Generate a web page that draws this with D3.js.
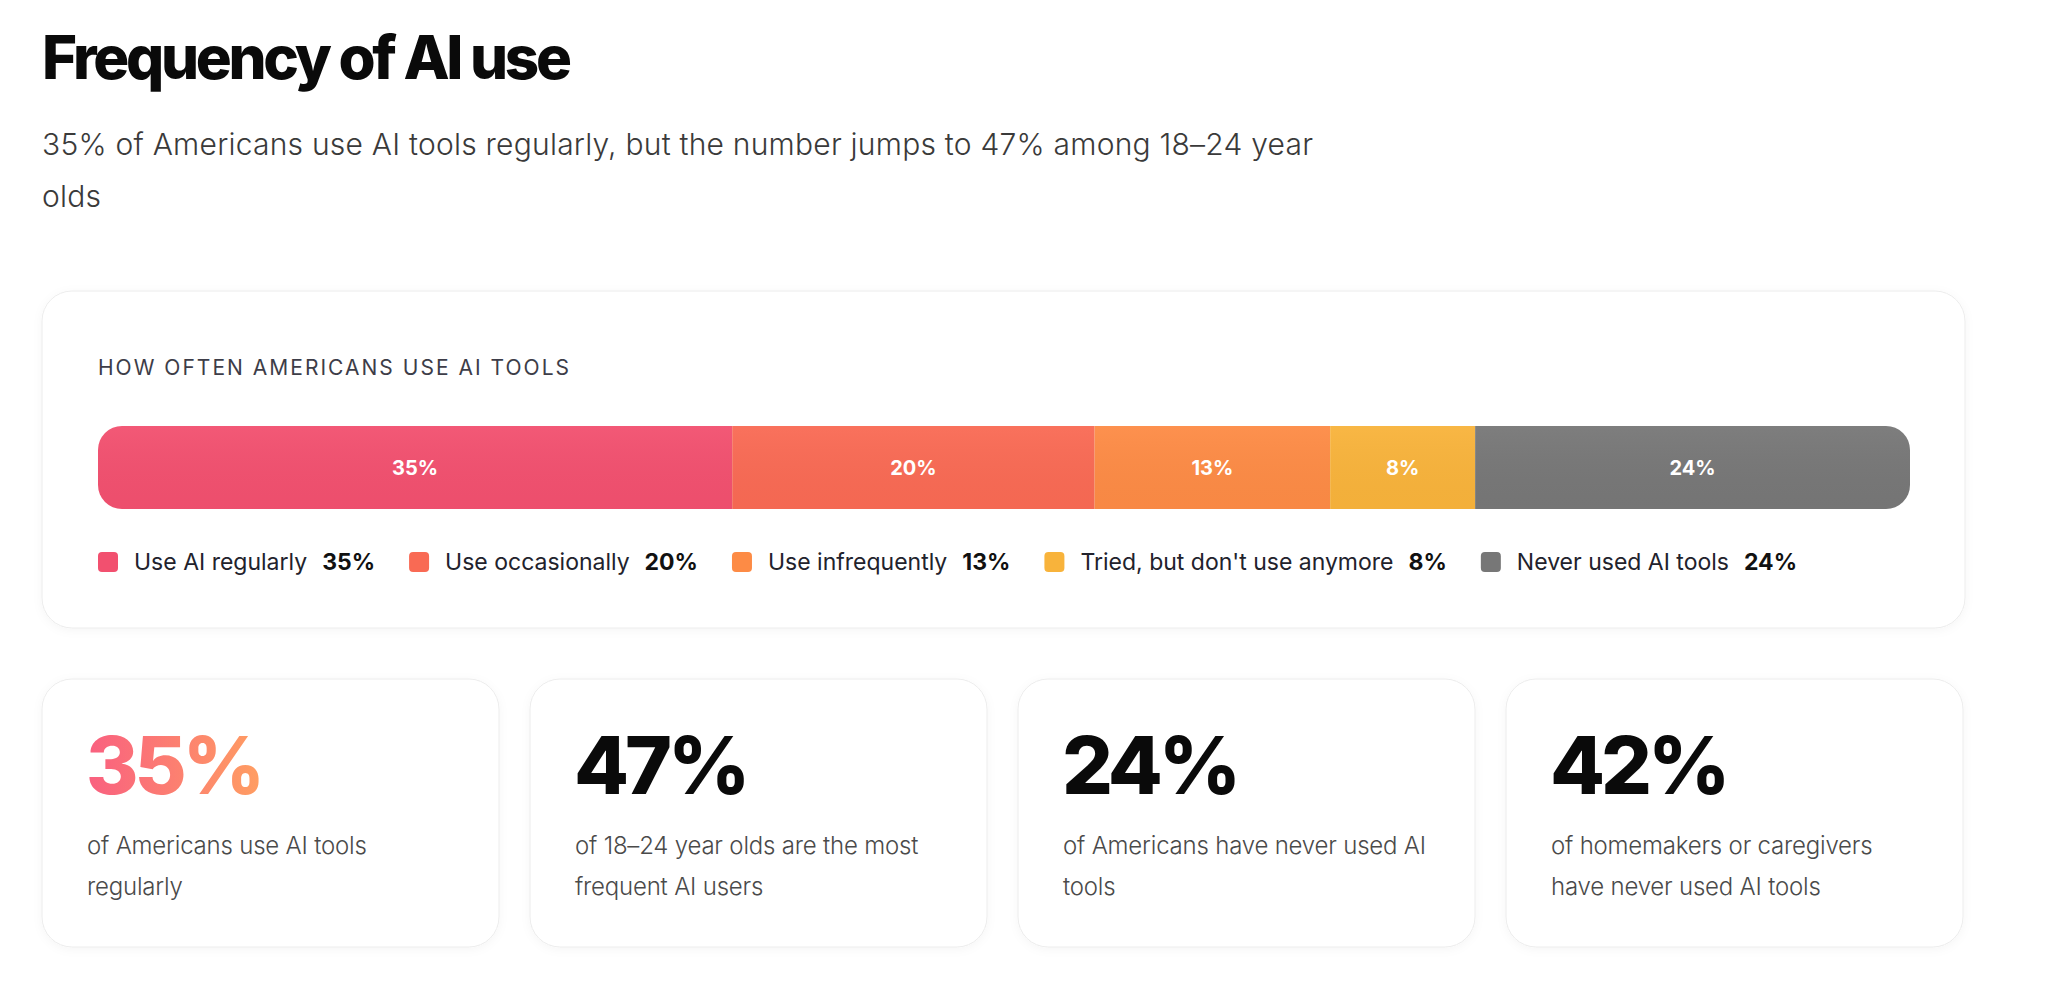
<!DOCTYPE html>
<html lang="en">
<head>
<meta charset="UTF-8">
<title>Frequency of AI use</title>
<script src="https://d3js.org/d3.v7.min.js"></script>
<style>
  html, body { margin: 0; padding: 0; background: #fff; }
  svg { display: block; font-family: Inter, "Noto Sans", sans-serif; }
</style>
</head>
<body>
<div id="chart"></div>
<script>
  // data
  const title = "Frequency of AI use";
  const subtitleLines = [
    "35% of Americans use AI tools regularly, but the number jumps to 47% among 18\u201324 year",
    "olds"
  ];
  const barTitle = "HOW OFTEN AMERICANS USE AI TOOLS";
  const categories = ["Use AI regularly", "Use occasionally", "Use infrequently", "Tried, but don't use anymore", "Never used AI tools"];
  const shares = [35, 20, 13, 8, 24];
  const colors = ["#F2506F", "#F96A54", "#FD8B45", "#F8B33B", "#777777"];

  const statValues = ["35%", "47%", "24%", "42%"];
  const statLines = [
    ["of Americans use AI tools", "regularly"],
    ["of 18\u201324 year olds are the most", "frequent AI users"],
    ["of Americans have never used AI", "tools"],
    ["of homemakers or caregivers", "have never used AI tools"]
  ];

  const W = 2048, H = 1000;
  const svg = d3.select("#chart").append("svg")
    .attr("width", W)
    .attr("height", H);

  const defs = svg.append("defs");
  const shadow = defs.append("filter").attr("id", "shadow")
    .attr("x", "-5%").attr("y", "-5%").attr("width", "110%").attr("height", "115%");
  shadow.append("feDropShadow")
    .attr("dx", 0).attr("dy", 2).attr("stdDeviation", 5)
    .attr("flood-color", "#000").attr("flood-opacity", 0.04);

  const grad = defs.append("linearGradient").attr("id", "numGrad")
    .attr("x1", "0%").attr("x2", "100%").attr("y1", "0%").attr("y2", "0%");
  grad.append("stop").attr("offset", "0%").attr("stop-color", "#F95F80");
  grad.append("stop").attr("offset", "100%").attr("stop-color", "#FF9E62");

  // stretch letter spacing so a text line spans the given width
  function fitWidth(sel, target) {
    const n = sel.text().length;
    const w = sel.node().getComputedTextLength();
    sel.attr("letter-spacing", (target - w) / (n - 1));
  }

  // heading
  svg.append("text")
    .attr("x", 42).attr("y", 79)
    .attr("font-size", 60).attr("font-weight", 800)
    .attr("fill", "#0a0a0a")
    .text(title)
    .call(fitWidth, 530);

  const sub = svg.selectAll(".sub")
    .data(subtitleLines)
    .enter()
    .append("text")
    .attr("class", "sub")
    .attr("x", 42)
    .attr("y", (d, i) => 155 + i * 52)
    .attr("font-size", 30).attr("font-weight", 300)
    .attr("fill", "#3a3a3a")
    .text(d => d);
  fitWidth(sub.filter((d, i) => i === 0), 1271);
  sub.filter((d, i) => i === 1).attr("letter-spacing", sub.filter((d, i) => i === 0).attr("letter-spacing"));

  // main card
  svg.append("rect")
    .attr("x", 42).attr("y", 291)
    .attr("width", 1923).attr("height", 337)
    .attr("rx", 30)
    .attr("fill", "#fff")
    .attr("stroke", "#ececec")
    .attr("filter", "url(#shadow)");

  svg.append("text")
    .attr("x", 98).attr("y", 375)
    .attr("font-size", 21)
    .attr("fill", "#3d3d48")
    .text(barTitle)
    .call(fitWidth, 471);

  // stacked bar
  const x = d3.scaleLinear().domain([0, d3.sum(shares)]).range([98, 1910]);
  const stacked = [];
  let acc = 0;
  shares.forEach((v, i) => {
    stacked.push({ start: acc, end: acc + v, value: v, color: colors[i], name: categories[i] });
    acc += v;
  });

  const barY = 426, barH = 83;
  defs.append("clipPath").attr("id", "barClip")
    .append("rect")
    .attr("x", x(0)).attr("y", barY)
    .attr("width", x(acc) - x(0)).attr("height", barH)
    .attr("rx", 24);

  const bar = svg.append("g").attr("clip-path", "url(#barClip)");
  bar.selectAll("rect")
    .data(stacked)
    .enter()
    .append("rect")
    .attr("x", d => x(d.start))
    .attr("y", barY)
    .attr("width", d => x(d.end) - x(d.start))
    .attr("height", barH)
    .attr("fill", d => d.color);

  const shade = defs.append("linearGradient").attr("id", "shade")
    .attr("x1", 0).attr("x2", 0).attr("y1", 0).attr("y2", 1);
  shade.append("stop").attr("offset", "0%").attr("stop-color", "#fff").attr("stop-opacity", 0.05);
  shade.append("stop").attr("offset", "100%").attr("stop-color", "#000").attr("stop-opacity", 0.02);
  bar.append("rect")
    .attr("x", x(0)).attr("y", barY)
    .attr("width", x(acc) - x(0)).attr("height", barH)
    .attr("fill", "url(#shade)");

  svg.selectAll(".barlabel")
    .data(stacked)
    .enter()
    .append("text")
    .attr("class", "barlabel")
    .attr("x", d => (x(d.start) + x(d.end)) / 2)
    .attr("y", barY + barH / 2 + 7)
    .attr("text-anchor", "middle")
    .attr("font-size", 20).attr("font-weight", 700)
    .attr("fill", "#fff")
    .text(d => d.value + "%");

  // legend, laid out left to right
  const legend = svg.append("g");
  let lx = 98;
  stacked.forEach(d => {
    legend.append("rect")
      .attr("x", lx).attr("y", 552)
      .attr("width", 20).attr("height", 20)
      .attr("rx", 4)
      .attr("fill", d.color);
    lx += 36;
    const lab = legend.append("text")
      .attr("x", lx).attr("y", 570)
      .attr("font-size", 23)
      .attr("fill", "#22222c")
      .text(d.name);
    lx += lab.node().getComputedTextLength() + 15;
    const val = legend.append("text")
      .attr("x", lx).attr("y", 570)
      .attr("font-size", 23).attr("font-weight", 700)
      .attr("fill", "#111")
      .text(d.value + "%");
    lx += val.node().getComputedTextLength() + 34;
  });

  // stat cards
  const cardW = 457, cardGap = 31, cardY = 679, cardH = 268;
  const cards = svg.selectAll(".card")
    .data(statValues)
    .enter()
    .append("g")
    .attr("class", "card")
    .attr("transform", (d, i) => "translate(" + (42 + i * (cardW + cardGap)) + "," + cardY + ")");

  cards.append("rect")
    .attr("width", cardW).attr("height", cardH)
    .attr("rx", 30)
    .attr("fill", "#fff")
    .attr("stroke", "#ececec")
    .attr("filter", "url(#shadow)");

  cards.append("text")
    .attr("x", 44).attr("y", 115)
    .attr("font-size", 80).attr("font-weight", 800)
    .attr("letter-spacing", -4)
    .attr("fill", (d, i) => i === 0 ? "url(#numGrad)" : "#0a0a0a")
    .text(d => d);

  cards.each(function(d, i) {
    d3.select(this).selectAll(".desc")
      .data(statLines[i])
      .enter()
      .append("text")
      .attr("class", "desc")
      .attr("x", 45)
      .attr("y", (t, j) => 175 + j * 41)
      .attr("font-size", 24).attr("font-weight", 300)
      .attr("letter-spacing", -0.2)
      .attr("fill", "#4a4a4a")
      .text(t => t);
  });
</script>
</body>
</html>
